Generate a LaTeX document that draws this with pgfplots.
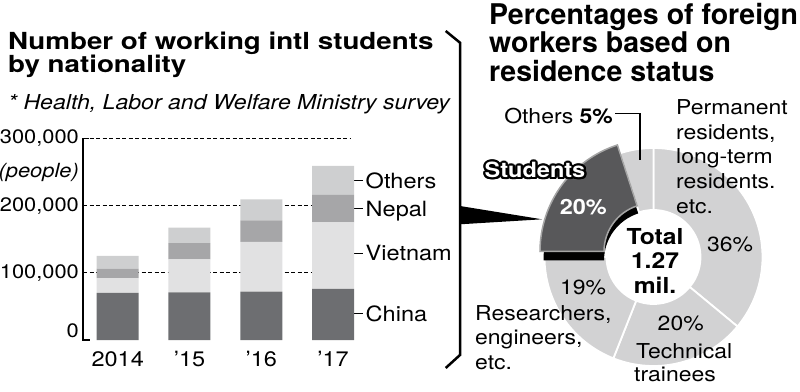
\documentclass[border=0pt]{standalone}
\usepackage{pgfplots}
\pgfplotsset{compat=1.18}
\usepackage{pgfplotstable}
\usepackage{fontspec}
\setmainfont{TeX Gyre Heros}[FakeStretch=1.12]
\newfontfamily\ltfont{TeX Gyre Heros}[FakeStretch=1.18]
\newfontfamily\rtfont{TeX Gyre Heros}[FakeStretch=1.0]
\newcommand\fs[1]{\fontsize{#1}{#1}\selectfont}
\definecolor{cChina}{HTML}{6D6E71}
\definecolor{cViet}{HTML}{E1E1E2}
\definecolor{cNepal}{HTML}{A6A6A8}
\definecolor{cOther}{HTML}{CECFD0}
\definecolor{ring}{HTML}{D2D2D3}
\definecolor{stud}{HTML}{58585A}
\definecolor{studedge}{HTML}{A5A5A5}

\pgfplotstableread{
x china vietnam nepal others
0 70000 22000 14000 19000
1 71000 49000 24000 23000
2 72000 74000 32000 31000
3 76000 99000 41000 43000
}\barsdata

% donut shares (percent)
\def\pPerm{36}\def\pTech{20}\def\pRes{19}\def\pStud{20}\def\pOth{5}
\pgfmathsetmacro\aS{90}
\pgfmathsetmacro\aA{\aS-3.6*\pPerm}
\pgfmathsetmacro\aB{\aA-3.6*\pTech}
\pgfmathsetmacro\aC{\aB-3.6*\pRes}
\pgfmathsetmacro\aD{\aC-3.6*\pStud}
\pgfmathsetmacro\aE{\aD-3.6*\pOth}

% #1 style, #2 start angle, #3 end angle, #4 r in, #5 r out, #6 centre
\newcommand\ringseg[6]{%
  \path[#1] ([shift={(#2:#5)}]#6) arc[start angle=#2, end angle=#3, radius=#5]
    -- ([shift={(#3:#4)}]#6) arc[start angle=#3, end angle=#2, radius=#4] -- cycle;}
% series label beside the 2017 bar: #1 value, #2 text
\newcommand\serlabel[2]{%
  \draw[line width=1.2pt] ([xshift=20pt]axis cs:3,#1) -- ([xshift=30pt]axis cs:3,#1)
    node[anchor=base west, inner sep=0pt, xshift=2pt, yshift=-7.5pt, font=\fs{21}] {#2};}

\begin{document}
\begin{tikzpicture}
\useasboundingbox (0,0) rectangle (800pt,391pt);

% titles
\node[anchor=base west, inner sep=0] at (8pt,341pt) {\ltfont\bfseries\fs{23.5}Number of working intl students};
\node[anchor=base west, inner sep=0] at (8pt,318pt) {\ltfont\bfseries\fs{23.5}by nationality};
\node[anchor=base west, inner sep=0] at (8pt,281pt) {\itshape\fs{20.6}* Health, Labor and Welfare Ministry survey};
\node[anchor=base west, inner sep=0] at (489pt,366pt) {\rtfont\bfseries\fs{28.5}Percentages of foreign};
\node[anchor=base west, inner sep=0] at (489pt,338pt) {\rtfont\bfseries\fs{28.5}workers based on};
\node[anchor=base west, inner sep=0] at (489pt,309.3pt) {\rtfont\bfseries\fs{28.5}residence status};

% bracket and pointer
\draw[line width=2.5pt, line join=miter] (445.7pt,360pt) -- (460pt,348.3pt) -- (460pt,36pt) -- (445.7pt,23pt);
\fill (460pt,185pt) -- (542pt,171.7pt) -- (460pt,166.7pt) -- cycle;

% bar chart
\begin{axis}[
  at={(83pt,51pt)}, anchor=south west, scale only axis,
  width=267pt, height=201.7pt,
  xmin=-0.483, xmax=3.235, ymin=0, ymax=300000,
  ybar stacked, bar width=42pt,
  axis line style={draw=none},
  major tick length=0pt,
  xtick={0,1,2,3}, xticklabels={2014,’15,’16,’17},
  ytick={100000,200000,300000},
  extra y ticks={0},
  extra y tick style={grid=none, yticklabel style={yshift=9pt}},
  ymajorgrids, grid style={black, line width=1.3pt, dash pattern=on 4pt off 2.5pt},
  scaled y ticks=false,
  /pgf/number format/fixed,
  /pgf/number format/1000 sep={,},
  /pgf/number format/assume math mode=true,
  yticklabel style={font=\fs{19.5}, anchor=east, inner sep=0pt, xshift=-4pt},
  xticklabel style={font=\fs{21}, anchor=base, inner sep=0pt, yshift=-26.7pt},
  clip=false,
]
\addplot[fill=cChina, draw=none] table[x=x,y=china]{\barsdata};
\addplot[fill=cViet, draw=none] table[x=x,y=vietnam]{\barsdata};
\addplot[fill=cNepal, draw=none] table[x=x,y=nepal]{\barsdata};
\addplot[fill=cOther, draw=none] table[x=x,y=others]{\barsdata};
\draw[line width=1.5pt] ([xshift=6pt]rel axis cs:0,1) -- (rel axis cs:0,1) -- (rel axis cs:0,0) -- ([xshift=7pt]rel axis cs:0,0);
\serlabel{39000}{China}
\serlabel{129000}{Vietnam}
\serlabel{195000}{Nepal}
\serlabel{237000}{Others}
\end{axis}
\node[anchor=base east, inner sep=0] at (79pt,213.5pt) {\itshape\fs{19.5}(people)};

% donut
\begin{axis}[at={(653.5pt,134pt)}, anchor=origin, x=1pt, y=1pt,
  xmin=-130, xmax=130, ymin=-130, ymax=130, hide axis, clip=false]
\addplot[draw=none] coordinates {(0,0)};
\coordinate (C) at (axis cs:0,0);
\coordinate (Cb) at ([shift={(0pt,-3.5pt)}]C);
\coordinate (Cr) at ([shift={(-1.5pt,5.5pt)}]C);
\ringseg{fill=ring, draw=white, line width=1.8pt}{\aS}{\aA}{47pt}{109pt}{C}
\ringseg{fill=ring, draw=white, line width=1.8pt}{\aA}{\aB}{47pt}{109pt}{C}
\ringseg{fill=ring, draw=white, line width=1.8pt}{\aB}{\aC}{47pt}{109pt}{C}
\ringseg{fill=ring, draw=white, line width=1.8pt}{\aD}{\aE}{47pt}{109pt}{C}
\ringseg{fill=black}{\aC}{\aD}{49.5pt}{110pt}{Cb}
\ringseg{fill=stud, draw=studedge, line width=1.5pt}{\aC}{\aD}{48pt}{112pt}{Cr}
\end{axis}

% donut labels
\draw[line width=1.2pt] (615pt,277.7pt) -- (640pt,277.7pt) -- (640pt,231pt);
\node[anchor=base east, inner sep=0] at (613pt,267.7pt) {\fs{20.5}Others \textbf{5\%}};
\node[anchor=base west, inner sep=0] at (676pt,276pt) {\fs{20.5}Permanent};
\node[anchor=base west, inner sep=0] at (676pt,251pt) {\fs{20.5}residents,};
\node[anchor=base west, inner sep=0] at (676pt,227.7pt) {\fs{20.5}long-term};
\node[anchor=base west, inner sep=0] at (676pt,202.7pt) {\fs{20.5}residents.};
\node[anchor=base west, inner sep=0] at (676pt,177.7pt) {\fs{20.5}etc.};
\node[anchor=base, inner sep=0] at (730pt,139pt) {\fs{20.5}36\%};
\node[anchor=base, inner sep=0] at (680.7pt,61pt) {\fs{20.5}20\%};
\node[anchor=base west, inner sep=0] at (636pt,33pt) {\fs{20.5}Technical};
\node[anchor=base west, inner sep=0] at (634pt,9.3pt) {\fs{20.5}trainees};
\node[anchor=base, inner sep=0] at (583pt,96pt) {\fs{20.5}19\%};
\node[anchor=base west, inner sep=0] at (475pt,71pt) {\fs{20.5}Researchers,};
\node[anchor=base west, inner sep=0] at (475pt,47pt) {\fs{20.5}engineers,};
\node[anchor=base west, inner sep=0] at (475pt,22pt) {\fs{20.5}etc.};
\foreach \ang in {0,22.5,...,337.5}
  \node[inner sep=0, text=black] at ([shift={(\ang:2.2pt)}]535pt,221pt) {\bfseries\fs{21}Students};
\node[inner sep=0, text=white] at (535pt,221pt) {\bfseries\fs{21}Students};
\node[inner sep=0, text=white] at (583.3pt,184.3pt) {\bfseries\fs{21}20\%};
\node[anchor=base, inner sep=0] at (655pt,146pt) {\bfseries\fs{22}Total};
\node[anchor=base, inner sep=0] at (655pt,122pt) {\bfseries\fs{22}1.27};
\node[anchor=base, inner sep=0] at (655pt,98pt) {\bfseries\fs{22}mil.};
\end{tikzpicture}
\end{document}
